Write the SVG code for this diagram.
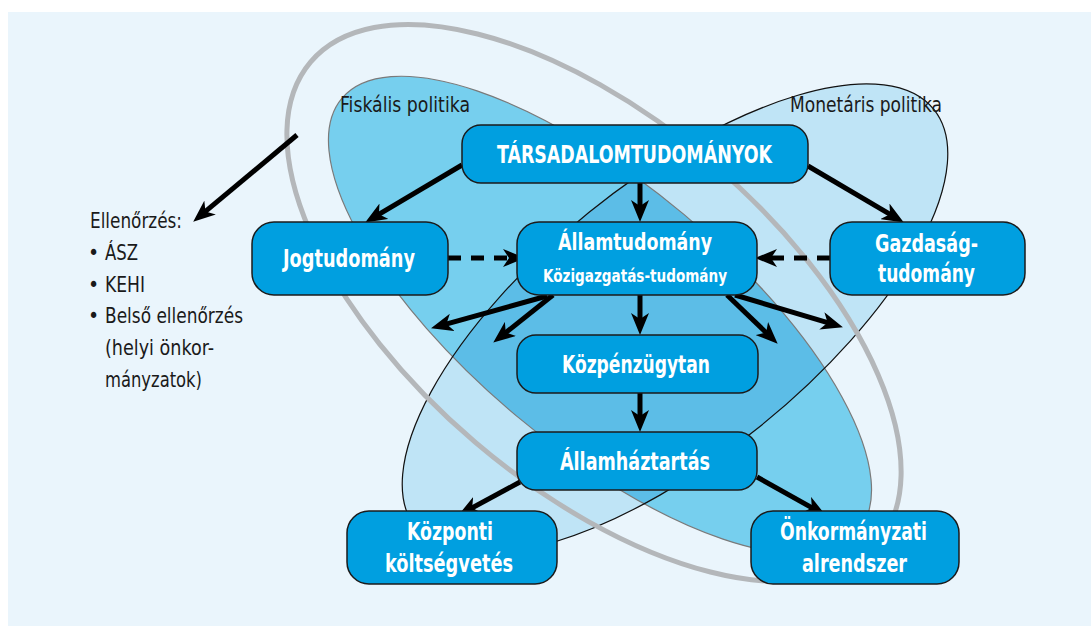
<svg xmlns="http://www.w3.org/2000/svg" width="1091" height="632" viewBox="0 0 1091 632">
<style>
.box{fill:#009fe0;stroke:#1b1b1b;stroke-width:1.5}
.bt{font-family:"Liberation Sans Narrow","DejaVu Sans Condensed","Liberation Sans",sans-serif;font-weight:bold;fill:#ffffff;text-anchor:start}
.nt{font-family:"Liberation Sans Narrow","DejaVu Sans Condensed","Liberation Sans",sans-serif;font-size:21px;fill:#1a1a1a}
.arr{stroke:#000;stroke-width:5;fill:none;marker-end:url(#ah)}
.dash{stroke-dasharray:13 10}
</style>
<defs>
<marker id="ah" viewBox="0 0 22 18" markerWidth="22" markerHeight="18" refX="13" refY="9" orient="auto" markerUnits="userSpaceOnUse">
<path d="M0,0 L22,9 L0,18 L6,9 Z" fill="#000"/>
</marker>
<clipPath id="fisk">
<ellipse cx="600" cy="315" rx="337" ry="131" transform="rotate(40 600 315)"/>
</clipPath>
</defs>
<rect x="0" y="0" width="1091" height="632" fill="#ffffff"/>
<rect x="8" y="12" width="1083" height="614" fill="#eaf5fc"/>
<g id="ellipses">
<ellipse id="fiskalis" cx="600" cy="315" rx="337" ry="131" transform="rotate(40 600 315)" fill="#76cfee"/>
<ellipse id="monetaris" cx="675" cy="319" rx="333" ry="137" transform="rotate(-39 675 319)" fill="#bfe4f6"/>
<g clip-path="url(#fisk)">
<ellipse cx="675" cy="319" rx="333" ry="137" transform="rotate(-39 675 319)" fill="#5cbde7"/>
</g>
<ellipse cx="600" cy="315" rx="337" ry="131" transform="rotate(40 600 315)" fill="none" stroke="#7a7a7a" stroke-width="1.2"/>
<ellipse cx="675" cy="319" rx="333" ry="137" transform="rotate(-39 675 319)" fill="none" stroke="#111" stroke-width="1.2"/>
<ellipse id="ellenorzes-kor" cx="594" cy="303" rx="372" ry="183" transform="rotate(40.4 594 303)" fill="none" stroke="#b4b7ba" stroke-width="5"/>
</g>
<g id="labels">
<text class="nt" x="340" y="112" textLength="130" lengthAdjust="spacingAndGlyphs">Fiskális politika</text>
<text class="nt" x="790" y="112" textLength="152" lengthAdjust="spacingAndGlyphs">Monetáris politika</text>
<text class="nt" x="90" y="228" textLength="92" lengthAdjust="spacingAndGlyphs">Ellenőrzés:</text>
<text class="nt" x="88" y="260">•</text>
<text class="nt" x="105" y="260" textLength="33" lengthAdjust="spacingAndGlyphs">ÁSZ</text>
<text class="nt" x="88" y="292">•</text>
<text class="nt" x="105" y="292" textLength="40" lengthAdjust="spacingAndGlyphs">KEHI</text>
<text class="nt" x="88" y="323">•</text>
<text class="nt" x="105" y="323" textLength="138" lengthAdjust="spacingAndGlyphs">Belső ellenőrzés</text>
<text class="nt" x="105" y="355" textLength="109" lengthAdjust="spacingAndGlyphs">(helyi önkor-</text>
<text class="nt" x="105" y="387" textLength="97" lengthAdjust="spacingAndGlyphs">mányzatok)</text>
</g>
<g id="connectors">
<line class="arr" x1="297" y1="135" x2="200.1" y2="215.9"/>
<line class="arr" x1="462" y1="165" x2="372.9" y2="217.9"/>
<line class="arr" x1="640" y1="183" x2="640" y2="213"/>
<line class="arr" x1="808" y1="166" x2="896.1" y2="217.9"/>
<line class="arr dash" x1="448" y1="258" x2="516" y2="258"/>
<line class="arr dash" x1="830" y1="258" x2="764" y2="258"/>
<line class="arr" x1="547" y1="296" x2="439.7" y2="325.9"/>
<line class="arr" x1="553" y1="295" x2="500.3" y2="337"/>
<line class="arr" x1="640" y1="295" x2="640" y2="326"/>
<line class="arr" x1="727" y1="295" x2="771.2" y2="337.5"/>
<line class="arr" x1="735" y1="295" x2="834.3" y2="324.7"/>
<line class="arr" x1="640" y1="393" x2="640" y2="423"/>
<line class="arr" x1="520" y1="482" x2="466" y2="511.2"/>
<line class="arr" x1="757" y1="477" x2="818" y2="511.1"/>
</g>
<g id="tarsadalom">
<rect class="box" x="462" y="125" width="346" height="58" rx="19"/>
<text class="bt" x="497" y="163" font-size="25" textLength="275" lengthAdjust="spacingAndGlyphs">TÁRSADALOMTUDOMÁNYOK</text>
</g>
<g id="jogtudomany">
<rect class="box" x="252" y="222" width="196" height="73" rx="22"/>
<text class="bt" x="283" y="267" font-size="24" textLength="132" lengthAdjust="spacingAndGlyphs">Jogtudomány</text>
</g>
<g id="allamtudomany">
<rect class="box" x="517" y="222" width="240" height="73" rx="22"/>
<text class="bt" x="558" y="250" font-size="23" textLength="154" lengthAdjust="spacingAndGlyphs">Államtudomány</text>
<text class="bt" x="543" y="282" font-size="17" textLength="184" lengthAdjust="spacingAndGlyphs">Közigazgatás-tudomány</text>
</g>
<g id="gazdasag">
<rect class="box" x="830" y="222" width="195" height="73" rx="22"/>
<text class="bt" x="875" y="252" font-size="24" textLength="103" lengthAdjust="spacingAndGlyphs">Gazdaság-</text>
<text class="bt" x="878" y="282" font-size="24" textLength="97" lengthAdjust="spacingAndGlyphs">tudomány</text>
</g>
<g id="kozpenzugytan">
<rect class="box" x="517" y="335" width="241" height="58" rx="19"/>
<text class="bt" x="562" y="373" font-size="24" textLength="148" lengthAdjust="spacingAndGlyphs">Közpénzügytan</text>
</g>
<g id="allamhaztartas">
<rect class="box" x="517" y="432" width="240" height="58" rx="19"/>
<text class="bt" x="560" y="470" font-size="24" textLength="150" lengthAdjust="spacingAndGlyphs">Államháztartás</text>
</g>
<g id="kozponti">
<rect class="box" x="347" y="511" width="210" height="73" rx="22"/>
<text class="bt" x="407" y="540" font-size="24" textLength="86" lengthAdjust="spacingAndGlyphs">Központi</text>
<text class="bt" x="385" y="572" font-size="24" textLength="128" lengthAdjust="spacingAndGlyphs">költségvetés</text>
</g>
<g id="onkormanyzati">
<rect class="box" x="751" y="511" width="208" height="73" rx="22"/>
<text class="bt" x="780" y="540" font-size="24" textLength="147" lengthAdjust="spacingAndGlyphs">Önkormányzati</text>
<text class="bt" x="802" y="572" font-size="24" textLength="105" lengthAdjust="spacingAndGlyphs">alrendszer</text>
</g>
</svg>
